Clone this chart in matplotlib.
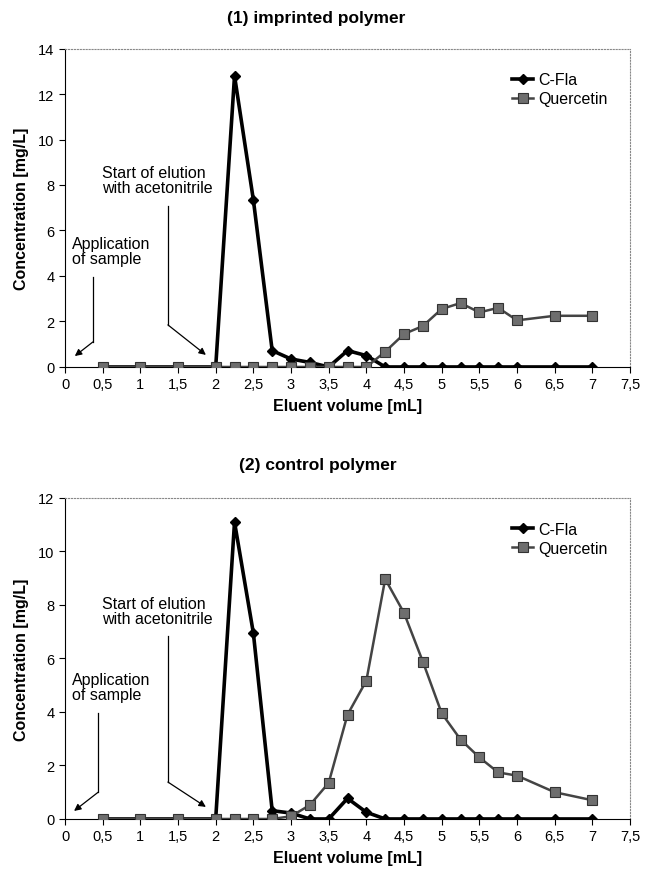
import matplotlib
matplotlib.use('Agg')
import matplotlib.pyplot as plt
from matplotlib.ticker import FuncFormatter

plt.rcParams['font.family'] = ['Liberation Sans', 'DejaVu Sans']

# Eluent volume [mL]
volume = [0.5, 1, 1.5, 2, 2.25, 2.5, 2.75, 3, 3.25, 3.5, 3.75, 4, 4.25,
          4.5, 4.75, 5, 5.25, 5.5, 5.75, 6, 6.5, 7]

# (1) imprinted polymer
imp_cfla = [0, 0, 0, 0, 12.8, 7.35, 0.72, 0.35, 0.2, 0, 0.72, 0.5, 0,
            0, 0, 0, 0, 0, 0, 0, 0, 0]
imp_querc = [0, 0, 0, 0, 0, 0, 0, 0, 0, 0, 0, 0, 0.67,
             1.45, 1.8, 2.55, 2.81, 2.4, 2.6, 2.05, 2.25, 2.25]

# (2) control polymer
ctl_cfla = [0, 0, 0, 0, 11.1, 6.95, 0.31, 0.22, 0, 0, 0.77, 0.25, 0,
            0, 0, 0, 0, 0, 0, 0, 0, 0]
ctl_querc = [0, 0, 0, 0, 0, 0, 0, 0.1, 0.52, 1.35, 3.9, 5.17, 8.97,
             7.7, 5.88, 3.95, 2.97, 2.3, 1.74, 1.62, 1.0, 0.7]

xticks = [0, 0.5, 1, 1.5, 2, 2.5, 3, 3.5, 4, 4.5, 5, 5.5, 6, 6.5, 7, 7.5]

fig = plt.figure(figsize=(6.45, 8.78), dpi=100)


def comma(v, pos):
    s = ('%g' % v)
    return s.replace('.', ',')


def draw_panel(ax, cfla, querc, ymax, start_txt_y, start_arrow, app_txt_y, app_arrow):
    ax.plot(volume, cfla, color='black', lw=2.6, marker='D', markersize=5,
            markerfacecolor='black', markeredgecolor='black', label='C-Fla', zorder=3)
    ax.plot(volume, querc, color='#444444', lw=1.8, marker='s', markersize=6.5,
            markerfacecolor='#6e6e6e', markeredgecolor='#333333', markeredgewidth=0.8,
            label='Quercetin', zorder=4)

    ax.set_xlim(0, 7.5)
    ax.set_ylim(0, ymax)
    ax.set_xticks(xticks)
    ax.set_yticks(range(0, ymax + 1, 2))
    ax.xaxis.set_major_formatter(FuncFormatter(comma))
    ax.tick_params(direction='out', length=4, labelsize=10.5, width=0.8)

    for side in ['top', 'right']:
        ax.spines[side].set_linestyle(':')
        ax.spines[side].set_color('#888888')
        ax.spines[side].set_linewidth(0.8)
    ax.spines['left'].set_linewidth(0.8)
    ax.spines['bottom'].set_linewidth(0.8)

    ax.set_xlabel('Eluent volume [mL]', fontweight='bold', fontsize=11.5, labelpad=5)
    ax.set_ylabel('Concentration [mg/L]', fontweight='bold', fontsize=11.5, labelpad=7)

    ax.legend(loc='upper right', frameon=False,
              fontsize=11.5, handlelength=1.3, handletextpad=0.3,
              bbox_to_anchor=(0.985, 0.97), labelspacing=0.25)

    # annotations
    ax.text(0.49, start_txt_y, 'Start of elution\nwith acetonitrile', fontsize=11.5,
            va='center', ha='left', linespacing=1.0)
    (sx, sy0, sy1, ax_, ay_) = start_arrow
    ax.plot([sx, sx], [sy0, sy1], color='black', lw=0.9)
    ax.annotate('', xy=(ax_, ay_), xytext=(sx, sy1),
                arrowprops=dict(arrowstyle='-|>', color='black', lw=0.9,
                                mutation_scale=10, shrinkA=0, shrinkB=0))
    ax.text(0.09, app_txt_y, 'Application\nof sample', fontsize=11.5,
            va='center', ha='left', linespacing=1.0)
    (px, py0, py1, bx, by) = app_arrow
    ax.plot([px, px], [py0, py1], color='black', lw=0.9)
    ax.annotate('', xy=(bx, by), xytext=(px, py1),
                arrowprops=dict(arrowstyle='-|>', color='black', lw=0.9,
                                mutation_scale=10, shrinkA=0, shrinkB=0))


ax1 = fig.add_axes([0.1008, 0.5809, 0.876, 0.3627])
draw_panel(ax1, imp_cfla, imp_querc, 14, 8.2, (1.366, 7.08, 1.85, 1.87, 0.53),
           5.1, (0.37, 3.96, 1.1, 0.13, 0.48))

ax2 = fig.add_axes([0.1008, 0.0661, 0.876, 0.3656])
draw_panel(ax2, ctl_cfla, ctl_querc, 12, 7.78, (1.366, 6.84, 1.38, 1.87, 0.45),
           4.93, (0.44, 3.96, 1.0, 0.12, 0.3))

fig.text(0.49, 1 - 19 / 878, '(1) imprinted polymer', ha='center', va='center',
         fontweight='bold', fontsize=12.5)
fig.text(0.493, 1 - 466 / 878, '(2) control polymer', ha='center', va='center',
         fontweight='bold', fontsize=12.5)

fig.savefig('out.png', dpi=100)
